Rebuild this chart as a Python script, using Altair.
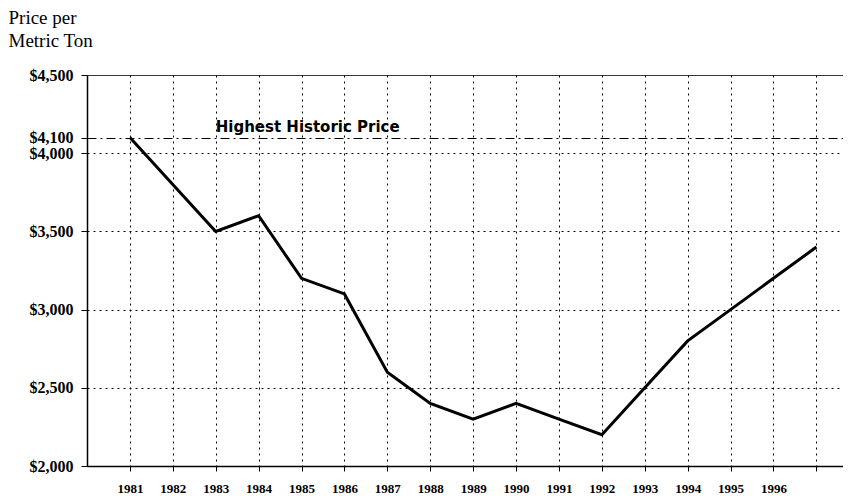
import altair as alt
import pandas as pd

years = list(range(1981, 1998))
prices = [4100, 3800, 3500, 3600, 3200, 3100, 2600, 2400, 2300, 2400,
          2300, 2200, 2500, 2800, 3000, 3200, 3400]
y_ticks = [2000, 2500, 3000, 3500, 4000, 4100, 4500]
ann_year = [1983]
ann_price = [4100]
ann_text = ["Highest Historic Price"]

df = pd.DataFrame({"year": years, "price": prices})
ann = pd.DataFrame({"year": ann_year, "price": ann_price, "label": ann_text})

x_scale = alt.Scale(domain=[1980, 1997.62], nice=False, zero=False)
y_scale = alt.Scale(domain=[2000, 4500], nice=False, zero=False)

x_axis = alt.Axis(
    values=years, format="d", title=None,
    labelExpr="datum.value > 1996 ? '' : datum.label",
    labelFont="Liberation Serif", labelFontWeight="bold", labelFontSize=13,
    labelColor="black", labelPadding=11,
    tickColor="black", tickSize=5, domainColor="black", domainWidth=1.5,
    grid=True, gridColor="black", gridDash=[2, 4], gridWidth=1, gridOpacity=1,
)
y_axis = alt.Axis(
    values=y_ticks, format="$,d", title=["Price per", "Metric Ton"],
    titleAngle=0, titleAlign="left", titleBaseline="top", titleX=-79, titleY=-67,
    titleFont="Liberation Serif", titleFontWeight="normal", titleFontSize=19,
    titleColor="black", titleLineHeight=23,
    labelFont="Liberation Serif", labelFontWeight="bold", labelFontSize=16,
    labelColor="black", labelPadding=8, labelOverlap=False,
    tickColor="black", tickSize=6, domainColor="black", domainWidth=1.5,
    grid=True, gridColor="black", gridWidth=1, gridOpacity=1,
    gridDash={"condition": [
        {"test": "datum.value == 4100", "value": [9, 4, 2, 4]},
        {"test": "datum.value == 4500", "value": [1, 0]},
    ], "value": [2, 4]},
)

line = alt.Chart(df).mark_line(color="black", strokeWidth=3).encode(
    x=alt.X("year:Q", scale=x_scale, axis=x_axis),
    y=alt.Y("price:Q", scale=y_scale, axis=y_axis),
)

text = alt.Chart(ann).mark_text(
    align="left", baseline="bottom", dy=-3, font="DejaVu Sans",
    fontWeight="bold", fontSize=15, color="black",
).encode(
    x=alt.X("year:Q", scale=x_scale),
    y=alt.Y("price:Q", scale=y_scale),
    text="label:N",
)

chart = alt.layer(line, text).properties(
    width=756, height=391,
    autosize=alt.AutoSizeParams(type="none"),
    padding={"left": 79, "top": 67, "right": 0, "bottom": 28},
).configure_view(stroke=None).configure(background="white")

chart.save("out.html", embed_options={"renderer": "svg", "actions": False})
